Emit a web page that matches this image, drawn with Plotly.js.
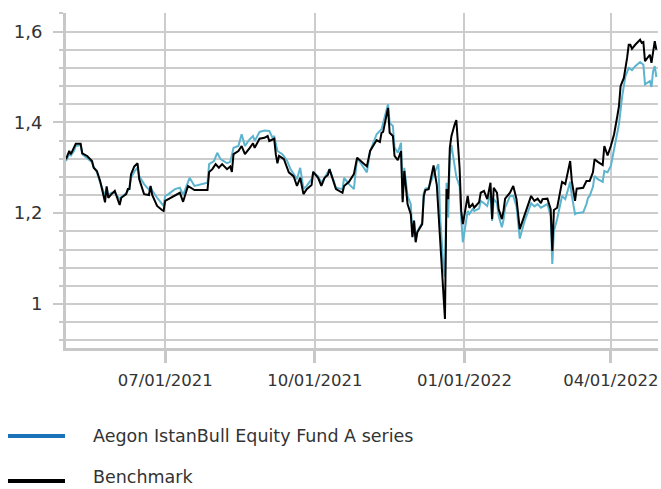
<!DOCTYPE html>
<html>
<head>
<meta charset="utf-8">
<script src="https://cdn.plot.ly/plotly-3.0.1.min.js"></script>
<style>html,body{margin:0;padding:0;background:#fff;}#chart{width:661px;height:489px;}</style>
</head>
<body>
<div id="chart"></div>
<script>
var fundName = "Aegon IstanBull Equity Fund A series";
var benchName = "Benchmark";

var fundDates = ["2021-05-01","2021-05-03","2021-05-04","2021-05-06","2021-05-07","2021-05-10","2021-05-11","2021-05-14","2021-05-17","2021-05-18","2021-05-20","2021-05-22","2021-05-25","2021-05-26","2021-05-27","2021-05-29","2021-05-31","2021-06-03","2021-06-04","2021-06-07","2021-06-08","2021-06-09","2021-06-10","2021-06-12","2021-06-14","2021-06-15","2021-06-18","2021-06-21","2021-06-22","2021-06-23","2021-06-26","2021-06-29","2021-06-30","2021-07-01","2021-07-03","2021-07-07","2021-07-10","2021-07-12","2021-07-16","2021-07-19","2021-07-27","2021-07-28","2021-07-31","2021-08-02","2021-08-04","2021-08-08","2021-08-10","2021-08-12","2021-08-15","2021-08-17","2021-08-19","2021-08-22","2021-08-24","2021-08-25","2021-08-28","2021-08-31","2021-09-03","2021-09-05","2021-09-06","2021-09-08","2021-09-11","2021-09-14","2021-09-16","2021-09-20","2021-09-22","2021-09-24","2021-09-26","2021-09-29","2021-09-30","2021-10-03","2021-10-05","2021-10-07","2021-10-10","2021-10-12","2021-10-14","2021-10-18","2021-10-19","2021-10-22","2021-10-25","2021-10-27","2021-11-02","2021-11-04","2021-11-08","2021-11-11","2021-11-15","2021-11-16","2021-11-18","2021-11-19","2021-11-21","2021-11-23","2021-11-24","2021-11-25","2021-11-27","2021-11-29","2021-11-30","2021-12-01","2021-12-02","2021-12-03","2021-12-06","2021-12-07","2021-12-08","2021-12-10","2021-12-13","2021-12-16","2021-12-17","2021-12-19","2021-12-20","2021-12-21","2021-12-22","2021-12-23","2021-12-24","2021-12-27","2021-12-29","2021-12-30","2021-12-31","2022-01-03","2022-01-04","2022-01-06","2022-01-07","2022-01-10","2022-01-11","2022-01-13","2022-01-15","2022-01-17","2022-01-18","2022-01-19","2022-01-21","2022-01-22","2022-01-24","2022-01-25","2022-01-26","2022-01-29","2022-01-31","2022-02-02","2022-02-04","2022-02-07","2022-02-11","2022-02-13","2022-02-15","2022-02-17","2022-02-18","2022-02-21","2022-02-23","2022-02-24","2022-02-25","2022-02-27","2022-03-02","2022-03-04","2022-03-07","2022-03-08","2022-03-10","2022-03-11","2022-03-15","2022-03-17","2022-03-18","2022-03-19","2022-03-21","2022-03-22","2022-03-24","2022-03-27","2022-03-28","2022-03-30","2022-04-01","2022-04-04","2022-04-06","2022-04-08","2022-04-10","2022-04-12","2022-04-14","2022-04-16","2022-04-19","2022-04-21","2022-04-22","2022-04-25","2022-04-26","2022-04-27","2022-04-28","2022-04-29"];
var fundValues = [1.315,1.330,1.327,1.338,1.348,1.350,1.330,1.322,1.312,1.302,1.290,1.268,1.238,1.255,1.240,1.245,1.245,1.231,1.236,1.244,1.250,1.255,1.278,1.292,1.300,1.282,1.264,1.252,1.258,1.250,1.234,1.222,1.216,1.238,1.242,1.253,1.256,1.240,1.278,1.260,1.267,1.308,1.315,1.333,1.319,1.310,1.313,1.344,1.348,1.374,1.348,1.363,1.370,1.359,1.379,1.382,1.381,1.366,1.370,1.337,1.330,1.315,1.297,1.275,1.300,1.254,1.260,1.275,1.290,1.281,1.267,1.278,1.297,1.278,1.256,1.253,1.278,1.264,1.253,1.322,1.290,1.337,1.374,1.385,1.440,1.399,1.392,1.345,1.333,1.355,1.231,1.300,1.238,1.220,1.150,1.185,1.140,1.160,1.179,1.245,1.254,1.256,1.285,1.308,1.194,1.084,1.060,1.267,1.190,1.326,1.350,1.280,1.260,1.190,1.136,1.205,1.198,1.209,1.205,1.210,1.227,1.222,1.216,1.245,1.183,1.231,1.222,1.194,1.169,1.185,1.212,1.238,1.238,1.215,1.144,1.183,1.222,1.215,1.220,1.212,1.214,1.220,1.194,1.088,1.161,1.187,1.238,1.231,1.269,1.238,1.198,1.200,1.202,1.220,1.234,1.238,1.258,1.282,1.275,1.269,1.293,1.290,1.304,1.355,1.396,1.458,1.502,1.520,1.515,1.524,1.533,1.527,1.484,1.491,1.478,1.513,1.524,1.500];

var benchDates = ["2021-05-01","2021-05-03","2021-05-04","2021-05-06","2021-05-07","2021-05-10","2021-05-11","2021-05-14","2021-05-17","2021-05-18","2021-05-20","2021-05-22","2021-05-25","2021-05-26","2021-05-27","2021-05-29","2021-05-31","2021-06-03","2021-06-04","2021-06-07","2021-06-08","2021-06-09","2021-06-10","2021-06-12","2021-06-14","2021-06-15","2021-06-18","2021-06-21","2021-06-22","2021-06-23","2021-06-26","2021-06-29","2021-06-30","2021-07-01","2021-07-03","2021-07-07","2021-07-10","2021-07-12","2021-07-15","2021-07-19","2021-07-27","2021-07-28","2021-07-30","2021-08-01","2021-08-03","2021-08-05","2021-08-08","2021-08-10","2021-08-11","2021-08-12","2021-08-15","2021-08-17","2021-08-19","2021-08-22","2021-08-24","2021-08-25","2021-08-28","2021-08-31","2021-09-02","2021-09-03","2021-09-06","2021-09-07","2021-09-08","2021-09-09","2021-09-12","2021-09-15","2021-09-18","2021-09-20","2021-09-22","2021-09-24","2021-09-26","2021-09-29","2021-09-30","2021-10-03","2021-10-05","2021-10-07","2021-10-09","2021-10-10","2021-10-12","2021-10-14","2021-10-18","2021-10-19","2021-10-22","2021-10-25","2021-10-27","2021-11-02","2021-11-04","2021-11-08","2021-11-10","2021-11-11","2021-11-12","2021-11-15","2021-11-16","2021-11-18","2021-11-19","2021-11-21","2021-11-23","2021-11-24","2021-11-25","2021-11-27","2021-11-29","2021-11-30","2021-12-01","2021-12-02","2021-12-03","2021-12-06","2021-12-07","2021-12-08","2021-12-10","2021-12-13","2021-12-15","2021-12-20","2021-12-21","2021-12-22","2021-12-23","2021-12-24","2021-12-26","2021-12-27","2021-12-29","2021-12-30","2021-12-31","2022-01-03","2022-01-04","2022-01-06","2022-01-07","2022-01-10","2022-01-11","2022-01-13","2022-01-15","2022-01-17","2022-01-18","2022-01-19","2022-01-21","2022-01-22","2022-01-24","2022-01-25","2022-01-26","2022-01-29","2022-01-31","2022-02-02","2022-02-04","2022-02-07","2022-02-11","2022-02-13","2022-02-15","2022-02-17","2022-02-18","2022-02-21","2022-02-23","2022-02-24","2022-02-25","2022-02-27","2022-03-02","2022-03-04","2022-03-07","2022-03-08","2022-03-10","2022-03-11","2022-03-15","2022-03-17","2022-03-19","2022-03-21","2022-03-22","2022-03-24","2022-03-27","2022-03-28","2022-03-30","2022-04-01","2022-04-03","2022-04-05","2022-04-06","2022-04-07","2022-04-09","2022-04-11","2022-04-12","2022-04-13","2022-04-14","2022-04-16","2022-04-19","2022-04-20","2022-04-21","2022-04-22","2022-04-25","2022-04-26","2022-04-27","2022-04-28","2022-04-29"];
var benchValues = [1.319,1.337,1.330,1.344,1.353,1.353,1.332,1.326,1.315,1.300,1.293,1.271,1.224,1.259,1.234,1.242,1.249,1.218,1.234,1.242,1.253,1.253,1.286,1.303,1.310,1.275,1.242,1.240,1.260,1.240,1.216,1.207,1.205,1.227,1.231,1.240,1.245,1.225,1.260,1.251,1.251,1.291,1.297,1.308,1.300,1.308,1.297,1.303,1.291,1.330,1.337,1.348,1.330,1.344,1.354,1.344,1.364,1.366,1.370,1.359,1.364,1.330,1.310,1.326,1.319,1.290,1.281,1.260,1.278,1.242,1.253,1.262,1.291,1.278,1.260,1.278,1.284,1.297,1.275,1.253,1.245,1.260,1.269,1.286,1.322,1.303,1.337,1.361,1.357,1.377,1.379,1.432,1.377,1.370,1.326,1.317,1.337,1.224,1.293,1.220,1.198,1.147,1.183,1.136,1.158,1.176,1.238,1.251,1.253,1.305,1.262,0.967,1.253,1.231,1.344,1.370,1.396,1.405,1.300,1.205,1.176,1.238,1.212,1.220,1.212,1.224,1.245,1.249,1.231,1.267,1.187,1.256,1.245,1.209,1.187,1.205,1.232,1.245,1.260,1.231,1.165,1.198,1.238,1.227,1.232,1.222,1.231,1.232,1.209,1.117,1.207,1.212,1.269,1.264,1.315,1.271,1.227,1.254,1.256,1.271,1.271,1.290,1.319,1.313,1.306,1.348,1.327,1.348,1.374,1.414,1.436,1.480,1.498,1.542,1.571,1.571,1.562,1.571,1.582,1.575,1.577,1.535,1.549,1.531,1.555,1.579,1.560];

var xTickVals = ["2021-07-01","2021-10-01","2022-01-01","2022-04-01"];
var xTickText = ["07/01/2021","10/01/2021","01/01/2022","04/01/2022"];
var yTickVals = [1, 1.2, 1.4, 1.6];
var yTickText = ["1","1,2","1,4","1,6"];

var FONT = "DejaVu Sans, Noto Sans, sans-serif";
var GRID = "#cccccc";

var traces = [
  {x: fundDates, y: fundValues, type: "scatter", mode: "lines", name: fundName,
   line: {color: "#5db4cf", width: 2}, showlegend: false, hoverinfo: "skip"},
  {x: benchDates, y: benchValues, type: "scatter", mode: "lines", name: benchName,
   line: {color: "#000000", width: 2}, showlegend: false, hoverinfo: "skip"}
];

var layout = {
  width: 661, height: 489,
  margin: {l: 66, r: 3, t: 13, b: 141},
  paper_bgcolor: "#ffffff", plot_bgcolor: "#ffffff",
  separators: ",.",
  font: {family: FONT, size: 17, color: "#333333"},
  showlegend: false,
  xaxis: {
    type: "date", range: ["2021-05-01", "2022-04-30"],
    tickmode: "array", tickvals: xTickVals, ticktext: xTickText,
    showgrid: true, gridcolor: GRID, gridwidth: 2,
    showline: true, linecolor: "#c8c8c8", linewidth: 3,
    ticks: "outside", ticklen: 12, tickwidth: 3, tickcolor: "#c8c8c8",
    ticklabelstandoff: 3,
    zeroline: false, fixedrange: true,
    tickfont: {family: FONT, size: 16.5, color: "#333333"}
  },
  yaxis: {
    range: [0.903, 1.641],
    tickmode: "array", tickvals: yTickVals, ticktext: yTickText,
    showgrid: true, gridcolor: GRID, gridwidth: 2,
    showline: true, linecolor: "#c8c8c8", linewidth: 3,
    ticks: "outside", ticklen: 10, tickwidth: 2, tickcolor: "#c8c8c8",
    ticklabelstandoff: 7,
    minor: {tickmode: "linear", tick0: 0, dtick: 0.04, showgrid: true, gridcolor: GRID, gridwidth: 2,
            ticks: "outside", ticklen: 4, tickwidth: 2, tickcolor: "#c8c8c8"},
    zeroline: false, fixedrange: true,
    tickfont: {family: FONT, size: 18, color: "#333333"}
  },
  shapes: [
    {type: "line", xref: "paper", yref: "paper", x0: -0.098, x1: -0.0017, y0: -0.2627, y1: -0.2627,
     line: {color: "#1a72b9", width: 4}},
    {type: "line", xref: "paper", yref: "paper", x0: -0.098, x1: -0.0017, y0: -0.397, y1: -0.397,
     line: {color: "#000000", width: 4}}
  ],
  annotations: [
    {xref: "paper", yref: "paper", x: 0.0439, y: -0.2627, xanchor: "left", yanchor: "middle",
     text: fundName, showarrow: false, borderpad: 0, font: {family: FONT, size: 17.5, color: "#333333"}},
    {xref: "paper", yref: "paper", x: 0.0439, y: -0.386, xanchor: "left", yanchor: "middle",
     text: benchName, showarrow: false, borderpad: 0, font: {family: FONT, size: 17.5, color: "#333333"}}
  ]
};

Plotly.newPlot("chart", traces, layout, {displayModeBar: false, staticPlot: true});
</script>
</body>
</html>
